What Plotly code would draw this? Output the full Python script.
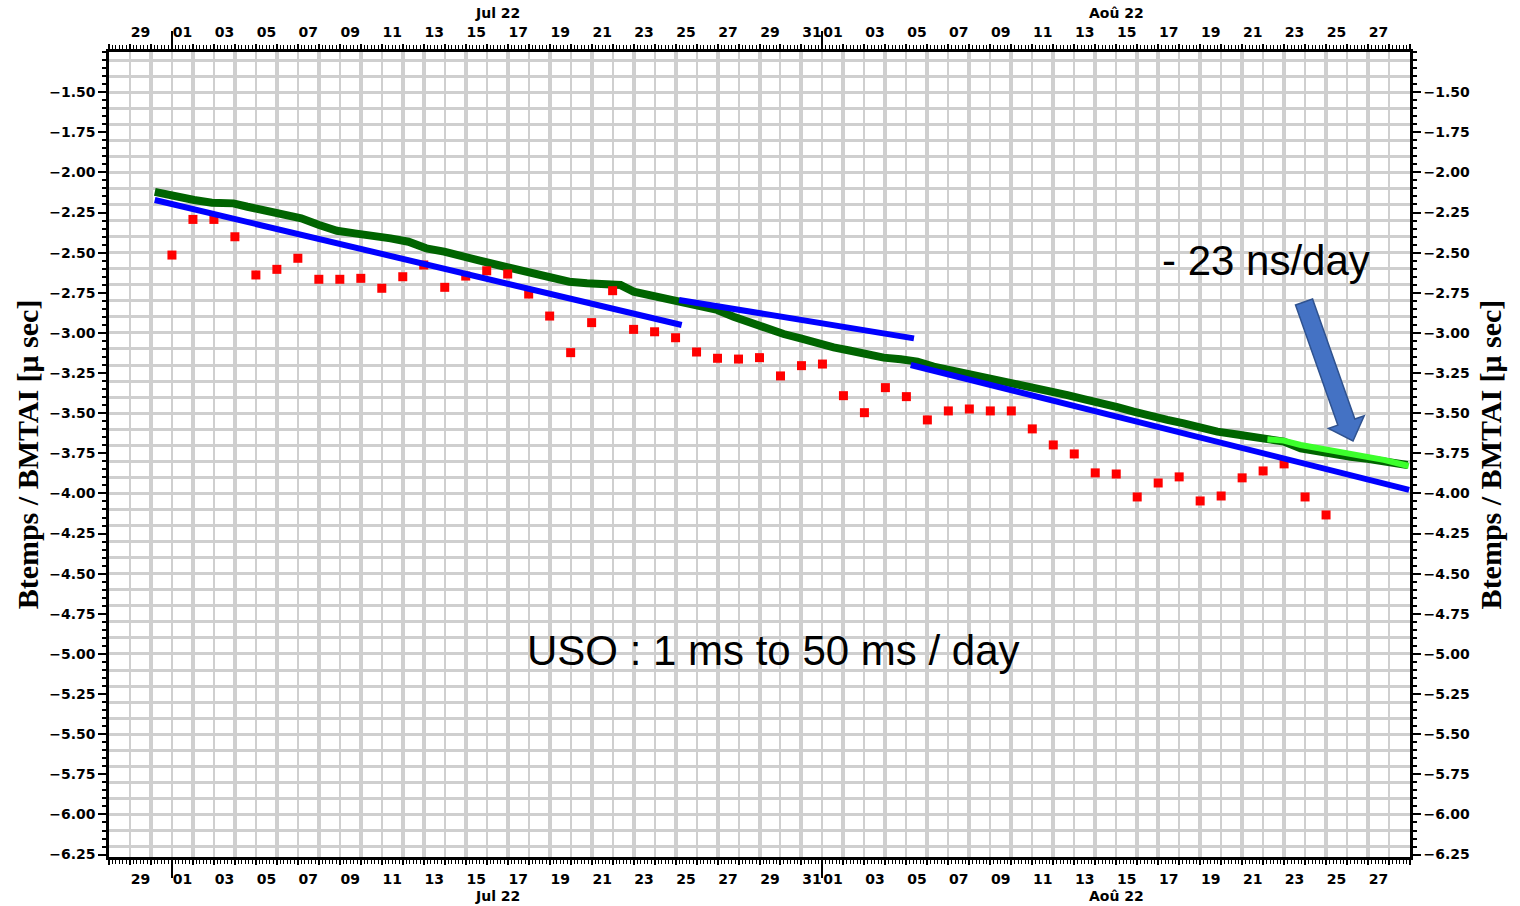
import pandas as pd
import plotly.graph_objects as go

# ---------------- data ----------------
# Daily points (red), Jul 01 .. Aug 25 2022, in micro-seconds
red_start = "2022-07-01"
red_values = [-2.515, -2.293, -2.293, -2.401, -2.639, -2.604, -2.535, -2.666, -2.666, -2.660,
              -2.722, -2.650, -2.577, -2.716, -2.646, -2.613, -2.633, -2.758, -2.895, -3.123,
              -2.936, -2.737, -2.978, -2.993, -3.030, -3.119, -3.158, -3.163, -3.154, -3.268,
              -3.204, -3.194, -3.391, -3.497, -3.341, -3.397, -3.542, -3.486, -3.474, -3.486,
              -3.486, -3.598, -3.698, -3.754, -3.872, -3.879, -4.022, -3.935, -3.897, -4.047,
              -4.016, -3.903, -3.860, -3.816, -4.022, -4.134]

# Continuous measurement (dark green)
green_dates = ["2022-06-30 04:24", "2022-07-01 04:52", "2022-07-02 01:20", "2022-07-02 21:43",
               "2022-07-03 22:18", "2022-07-04 14:25", "2022-07-05 11:01", "2022-07-06 07:36",
               "2022-07-07 03:52", "2022-07-08 00:20", "2022-07-08 20:43", "2022-07-09 17:11",
               "2022-07-10 13:26", "2022-07-11 10:02", "2022-07-12 06:30", "2022-07-13 02:51",
               "2022-07-13 23:20", "2022-07-14 19:42", "2022-07-15 16:10", "2022-07-16 12:32",
               "2022-07-17 09:01", "2022-07-18 05:30", "2022-07-19 01:51", "2022-07-19 22:19",
               "2022-07-20 18:42", "2022-07-21 15:10", "2022-07-22 09:07", "2022-07-23 00:00",
               "2022-07-23 19:26", "2022-07-24 14:33", "2022-07-25 09:11", "2022-07-26 04:39",
               "2022-07-26 23:45", "2022-07-27 18:24", "2022-07-28 13:51", "2022-07-29 08:57",
               "2022-07-30 03:36", "2022-07-30 23:02", "2022-07-31 18:08", "2022-08-01 12:47",
               "2022-08-02 08:14", "2022-08-03 03:20", "2022-08-03 21:59", "2022-08-04 17:27",
               "2022-08-05 12:32", "2022-08-06 07:11", "2022-08-07 02:37", "2022-08-07 21:43",
               "2022-08-08 16:22", "2022-08-09 11:50", "2022-08-10 06:56", "2022-08-11 01:35",
               "2022-08-11 21:01", "2022-08-12 16:08", "2022-08-13 10:47", "2022-08-14 06:13",
               "2022-08-15 01:19", "2022-08-15 19:58", "2022-08-16 15:24", "2022-08-17 10:31",
               "2022-08-18 05:10", "2022-08-19 00:37", "2022-08-19 19:44", "2022-08-20 14:22",
               "2022-08-21 09:49", "2022-08-22 04:55", "2022-08-22 23:34", "2022-08-23 19:02",
               "2022-08-24 14:08", "2022-08-25 08:47", "2022-08-26 04:13", "2022-08-26 23:20",
               "2022-08-27 17:59", "2022-08-28 21:06"]
green_values = [-2.121, -2.152, -2.172, -2.189, -2.193, -2.214, -2.239, -2.255, -2.286, -2.328,
                -2.364, -2.380, -2.390, -2.411, -2.432, -2.473, -2.494, -2.526, -2.550, -2.577,
                -2.604, -2.629, -2.654, -2.681, -2.691, -2.702, -2.702, -2.743, -2.764, -2.791,
                -2.816, -2.837, -2.857, -2.899, -2.940, -2.971, -3.007, -3.034, -3.065, -3.090,
                -3.111, -3.138, -3.154, -3.164, -3.179, -3.210, -3.231, -3.262, -3.283, -3.304,
                -3.324, -3.345, -3.366, -3.387, -3.413, -3.435, -3.463, -3.491, -3.511, -3.542,
                -3.563, -3.594, -3.615, -3.630, -3.642, -3.663, -3.677, -3.719, -3.740, -3.756,
                -3.771, -3.785, -3.802, -3.823]

# Last days (light green)
lightgreen_dates = ["2022-08-22 04:55", "2022-08-22 23:34", "2022-08-23 19:02", "2022-08-24 14:08",
                    "2022-08-25 08:47", "2022-08-26 04:13", "2022-08-26 23:20", "2022-08-27 17:59",
                    "2022-08-28 22:33"]
lightgreen_values = [-3.663, -3.671, -3.698, -3.717, -3.735, -3.754, -3.773, -3.791, -3.829]

# Linear fits (blue)
fit1_dates = ["2022-06-30 04:20", "2022-07-25 07:00"]
fit1_values = [-2.172, -2.951]
fit2_dates = ["2022-07-25 04:00", "2022-08-05 08:40"]
fit2_values = [-2.795, -3.034]
fit3_dates = ["2022-08-05 05:00", "2022-08-28 23:00"]
fit3_values = [-3.200, -3.978]

# Axis ticks / labels
x_range = ["2022-06-28", "2022-08-29"]
y_range = [-6.265, -1.25]
y_tick_values = [-1.50, -1.75, -2.00, -2.25, -2.50, -2.75, -3.00, -3.25, -3.50, -3.75,
                 -4.00, -4.25, -4.50, -4.75, -5.00, -5.25, -5.50, -5.75, -6.00, -6.25]
day_label_dates = ["2022-06-29",
                   "2022-07-01", "2022-07-03", "2022-07-05", "2022-07-07", "2022-07-09", "2022-07-11",
                   "2022-07-13", "2022-07-15", "2022-07-17", "2022-07-19", "2022-07-21", "2022-07-23",
                   "2022-07-25", "2022-07-27", "2022-07-29", "2022-07-31",
                   "2022-08-01", "2022-08-03", "2022-08-05", "2022-08-07", "2022-08-09", "2022-08-11",
                   "2022-08-13", "2022-08-15", "2022-08-17", "2022-08-19", "2022-08-21", "2022-08-23",
                   "2022-08-25", "2022-08-27"]
day_label_text = ["29",
                  "01", "03", "05", "07", "09", "11", "13", "15", "17", "19", "21", "23", "25", "27",
                  "29", "31",
                  "01", "03", "05", "07", "09", "11", "13", "15", "17", "19", "21", "23", "25", "27"]
month_label_dates = ["2022-07-16 12:00", "2022-08-15 00:00"]
month_label_text = ["Jul 22", "Aoû 22"]
month_start_dates = ["2022-07-01", "2022-08-01"]
thick_grid_dates = ["2022-06-30", "2022-07-02", "2022-07-04", "2022-07-06", "2022-07-08",
                    "2022-07-10", "2022-07-12", "2022-07-13", "2022-07-15", "2022-07-17",
                    "2022-07-19", "2022-07-21", "2022-07-23", "2022-07-25", "2022-07-27",
                    "2022-07-29", "2022-07-31", "2022-08-02", "2022-08-04", "2022-08-06",
                    "2022-08-08", "2022-08-10", "2022-08-12", "2022-08-14", "2022-08-16",
                    "2022-08-17", "2022-08-19", "2022-08-21", "2022-08-23", "2022-08-25",
                    "2022-08-27"]

y_title = "Btemps / BMTAI [μ sec]"

# ---------------- figure ----------------
red_dates = pd.date_range(red_start, periods=len(red_values), freq="D")
noon = pd.Timedelta(hours=12)
day_label_pos = [pd.Timestamp(d) + noon for d in day_label_dates]

DAY_MS = 86400000
TICK_FONT = dict(family="DejaVu Sans", size=14, color="black", weight="bold")
TITLE_FONT = dict(family="Liberation Serif, Times New Roman", size=30, color="black", weight="bold")
GRID = "#cfcfcf"

fig = go.Figure()

# empty traces so that every overlaid axis gets drawn
for xa, ya in (("x2", "y"), ("x3", "y"), ("x4", "y"), ("x5", "y"), ("x6", "y"), ("x7", "y"),
               ("x", "y2"), ("x", "y3")):
    fig.add_trace(go.Scatter(x=[], y=[], xaxis=xa, yaxis=ya, mode="lines",
                             showlegend=False, hoverinfo="skip"))

fig.add_trace(go.Scatter(x=green_dates, y=green_values, mode="lines",
                         line=dict(color="#006400", width=8), hoverinfo="skip"))
fig.add_trace(go.Scatter(x=lightgreen_dates, y=lightgreen_values, mode="lines",
                         line=dict(color="#3cff2c", width=6), hoverinfo="skip"))
fig.add_trace(go.Scatter(x=red_dates, y=red_values, mode="markers",
                         marker=dict(symbol="square", size=9, color="#ff0000"), hoverinfo="skip"))
for fd, fv in ((fit1_dates, fit1_values), (fit2_dates, fit2_values), (fit3_dates, fit3_values)):
    fig.add_trace(go.Scatter(x=fd, y=fv, mode="lines",
                             line=dict(color="#0000ff", width=6), hoverinfo="skip"))

date_common = dict(type="date", range=x_range, zeroline=False, fixedrange=True)

label_axis = dict(date_common, tickmode="array", tickvals=day_label_pos, ticktext=day_label_text,
                  tickangle=0,
                  ticks="outside", ticklen=7, tickcolor="rgba(0,0,0,0)", showgrid=False,
                  showline=True, linecolor="black", linewidth=2.5, tickfont=TICK_FONT,
                  minor=dict(tickmode="linear", tick0="2022-06-28", dtick=DAY_MS / 6,
                             ticks="outside", ticklen=4, tickwidth=1.2, tickcolor="black",
                             showgrid=False))
day_tick_axis = dict(date_common, tickmode="linear", tick0="2022-06-28", dtick=DAY_MS,
                     ticks="outside", ticklen=7, tickwidth=1.5, tickcolor="black",
                     showticklabels=False, showgrid=False, showline=False)
month_tick_axis = dict(date_common, tickmode="array", tickvals=month_start_dates,
                       ticks="outside", ticklen=20, tickwidth=1.5, tickcolor="black",
                       showticklabels=False, showgrid=False, showline=False)

y_common = dict(range=y_range, tickmode="array", tickvals=y_tick_values, tickformat=".2f",
                ticks="outside", ticklen=8, tickwidth=2, tickcolor="black",
                showgrid=False, zeroline=False, showline=True, linecolor="black", linewidth=2.5,
                tickfont=TICK_FONT, anchor="x", fixedrange=True,
                minor=dict(tickmode="linear", tick0=0, dtick=0.05, ticks="outside", ticklen=4,
                           tickwidth=1.5, tickcolor="black", showgrid=False))

fig.update_layout(
    width=1520, height=906,
    margin=dict(l=109, r=110, t=52, b=49),
    paper_bgcolor="white", plot_bgcolor="white",
    showlegend=False,
    xaxis=dict(label_axis, side="bottom", anchor="y"),
    xaxis2=dict(label_axis, side="top", anchor="y", overlaying="x"),
    xaxis3=dict(day_tick_axis, side="bottom", anchor="y", overlaying="x",
                showgrid=True, gridcolor=GRID, gridwidth=2),
    xaxis4=dict(day_tick_axis, side="top", anchor="y", overlaying="x"),
    xaxis5=dict(date_common, tickmode="array", tickvals=thick_grid_dates, ticks="",
                showticklabels=False, showgrid=True, gridcolor=GRID, gridwidth=4,
                side="bottom", anchor="y", overlaying="x"),
    xaxis6=dict(month_tick_axis, side="bottom", anchor="y", overlaying="x"),
    xaxis7=dict(month_tick_axis, side="top", anchor="y", overlaying="x"),
    yaxis=dict(y_common, side="left",
               title=dict(text=y_title, font=TITLE_FONT, standoff=2)),
    yaxis2=dict(y_common, side="right", overlaying="y",
                title=dict(text=y_title, font=TITLE_FONT, standoff=11)),
    yaxis3=dict(range=y_range, tickmode="linear", tick0=0, dtick=0.1, ticks="",
                showticklabels=False, showgrid=True, gridcolor=GRID, gridwidth=2.5,
                zeroline=False, showline=False, anchor="x", overlaying="y", fixedrange=True),
)

# month labels above and below the date axes
for d, t in zip(month_label_dates, month_label_text):
    for yp in (1.0484, -0.0484):
        fig.add_annotation(x=d, y=yp, xref="x", yref="paper", text=t, showarrow=False,
                           xanchor="center", yanchor="middle", font=TICK_FONT)

fig.add_annotation(x="2022-08-22 03:00", y=-2.546, xref="x", yref="y", text="- 23 ns/day",
                   showarrow=False, xanchor="center", yanchor="middle",
                   font=dict(family="Liberation Sans, Arial", size=42, color="black"))
fig.add_annotation(x="2022-07-29 16:00", y=-4.98, xref="x", yref="y",
                   text="USO : 1 ms to 50 ms / day",
                   showarrow=False, xanchor="center", yanchor="middle",
                   font=dict(family="Liberation Sans, Arial", size=42, color="black"))

# block arrow pointing to the light-green segment
fig.add_shape(type="path", xref="paper", yref="paper", layer="above",
              path="M 0.9120 0.6857 L 0.9251 0.6932 L 0.9576 0.5440 L 0.9648 0.5481 "
                   "L 0.9562 0.5168 L 0.9373 0.5324 L 0.9445 0.5365 Z",
              fillcolor="#4472C4", line=dict(color="#2F528F", width=1.5))

fig.write_html("out.html", post_script="document.body.style.margin='0';",
               config={"displayModeBar": False})
